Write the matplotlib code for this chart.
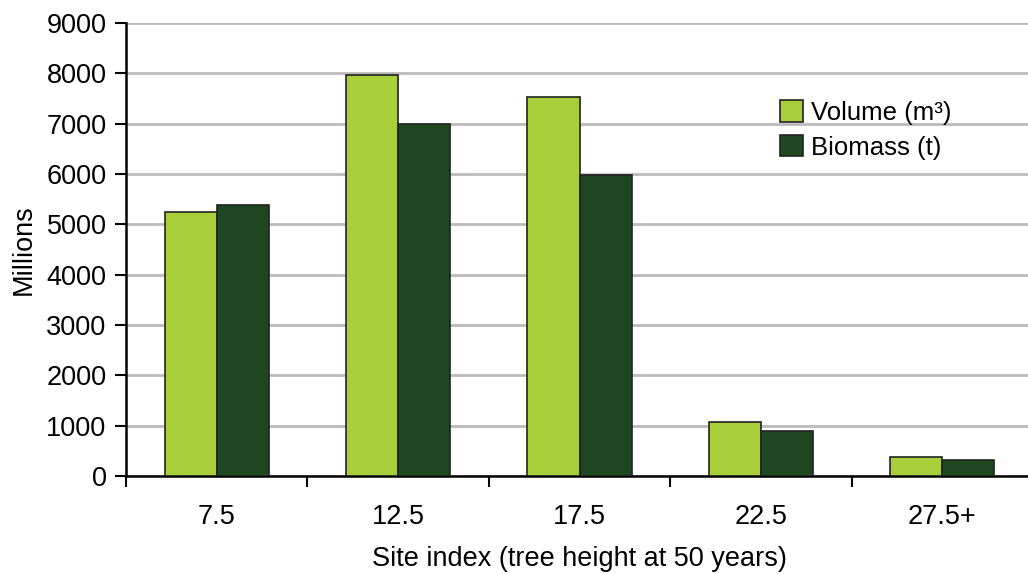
import matplotlib
matplotlib.use("Agg")
import matplotlib.pyplot as plt
import numpy as np

categories = ["7.5", "12.5", "17.5", "22.5", "27.5+"]
volume = [5250, 7960, 7530, 1080, 384]
biomass = [5380, 6990, 5980, 900, 318]
yticks = [0, 1000, 2000, 3000, 4000, 5000, 6000, 7000, 8000, 9000]

plt.rcParams['font.family'] = ['Liberation Sans', 'DejaVu Sans']
FS = 19.5

fig = plt.figure(figsize=(10.28, 5.74), dpi=100)
ax = fig.add_axes([126/1028, 1-476/574, (1033-126)/1028, (476-23)/574])

x = np.arange(len(categories))
w = 0.287
ax.bar(x - w/2, volume, w, color="#A8CF3A", edgecolor="#222222", linewidth=1.2, label="Volume (m³)", zorder=3)
ax.bar(x + w/2, biomass, w, color="#1E4620", edgecolor="#222222", linewidth=1.2, label="Biomass (t)", zorder=3)

ax.set_xlim(-0.5, len(categories) - 0.5)
ax.set_ylim(0, 9000)
ax.set_yticks(yticks)
ax.set_yticklabels([str(t) for t in yticks], fontsize=FS)
ax.yaxis.grid(True, color="#BBBBBB", linewidth=2, zorder=0)
ax.set_axisbelow(True)

ax.set_xticks(np.arange(len(categories) + 1) - 0.5)
ax.set_xticklabels([])
ax.set_xticks(x, minor=True)
ax.set_xticklabels(categories, minor=True, fontsize=FS)
ax.tick_params(axis='x', which='major', direction='out', length=8, width=1.5, color='black')
ax.tick_params(axis='x', which='minor', length=0, pad=20)
ax.tick_params(axis='y', direction='out', length=8, width=1.5, pad=6)

for s in ['top', 'right']:
    ax.spines[s].set_visible(False)
for s in ['left', 'bottom']:
    ax.spines[s].set_linewidth(1.8)

ax.set_ylabel("Millions", fontsize=FS, labelpad=7)
ax.set_xlabel("Site index (tree height at 50 years)", fontsize=FS, labelpad=12)

leg = ax.legend(loc='upper left', bbox_to_anchor=((770-126)/907, (476-90)/453), frameon=False,
                fontsize=18.5, handlelength=0.9, handleheight=0.9, handletextpad=0.3, labelspacing=0.4,
                borderaxespad=0)

fig.savefig("out.png", dpi=100)
